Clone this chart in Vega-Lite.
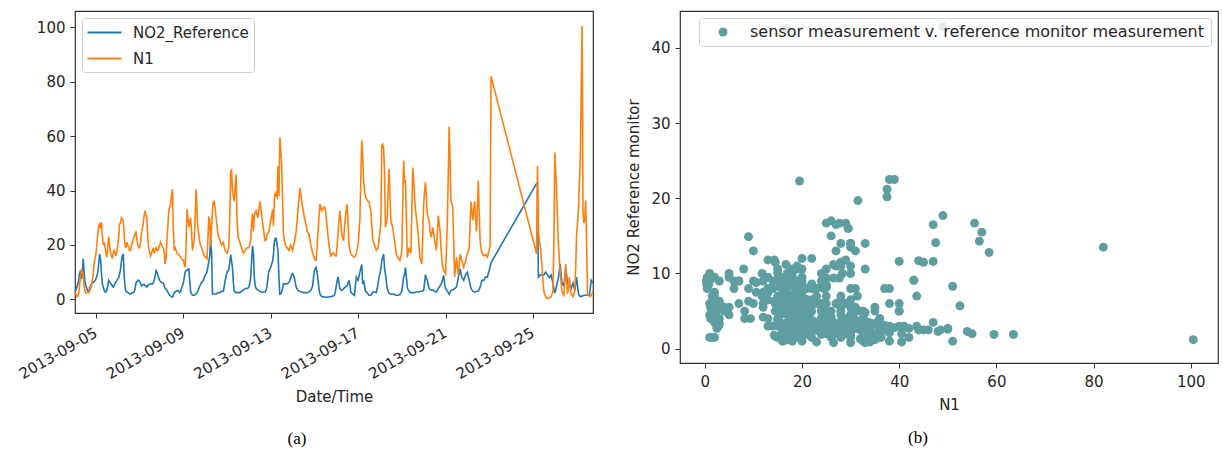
{
"$schema":"https://vega.github.io/schema/vega-lite/v6.json",
"background":"white",
"padding":{"left":15,"top":10,"right":2,"bottom":0},
"config":{
"font":"DejaVu Sans",
"view":{"stroke":"#333333","strokeWidth":1.2},
"axis":{"domain":false,"grid":false,"tickColor":"#333333","tickSize":5,"tickWidth":1,"labelFontSize":15,"labelColor":"#262626","titleFontSize":15,"titleColor":"#262626","titleFontWeight":"normal","labelFont":"DejaVu Sans","titleFont":"DejaVu Sans","labelPadding":5},
"legend":{"labelFontSize":15,"labelColor":"#262626","labelFont":"DejaVu Sans","labelLimit":0}
},
"datasets":{"ts":[
{"t":"2013-09-04T01:00","NO2_Reference":3.0,"N1":2.5},
{"t":"2013-09-04T02:00","NO2_Reference":3.5,"N1":2.0},
{"t":"2013-09-04T03:00","NO2_Reference":4.5,"N1":1.0},
{"t":"2013-09-04T04:00","NO2_Reference":5.5,"N1":1.2},
{"t":"2013-09-04T05:00","NO2_Reference":7.0,"N1":2.0},
{"t":"2013-09-04T06:00","NO2_Reference":9.5,"N1":5.0},
{"t":"2013-09-04T07:00","NO2_Reference":10.6,"N1":8.0},
{"t":"2013-09-04T08:00","NO2_Reference":7.5,"N1":10.6},
{"t":"2013-09-04T09:00","NO2_Reference":9.0,"N1":10.0},
{"t":"2013-09-04T10:00","NO2_Reference":14.9,"N1":9.0},
{"t":"2013-09-04T11:00","NO2_Reference":10.0,"N1":5.0},
{"t":"2013-09-04T12:00","NO2_Reference":6.3,"N1":3.0},
{"t":"2013-09-04T13:00","NO2_Reference":5.0,"N1":2.5},
{"t":"2013-09-04T14:00","NO2_Reference":4.0,"N1":2.5},
{"t":"2013-09-04T15:00","NO2_Reference":3.0,"N1":2.8},
{"t":"2013-09-04T16:00","NO2_Reference":2.7,"N1":2.5},
{"t":"2013-09-04T17:00","NO2_Reference":4.0,"N1":3.0},
{"t":"2013-09-04T18:00","NO2_Reference":5.0,"N1":4.0},
{"t":"2013-09-04T19:00","NO2_Reference":5.5,"N1":5.0},
{"t":"2013-09-04T20:00","NO2_Reference":6.0,"N1":7.0},
{"t":"2013-09-04T21:00","NO2_Reference":6.3,"N1":9.0},
{"t":"2013-09-04T22:00","NO2_Reference":6.5,"N1":13.0},
{"t":"2013-09-04T23:00","NO2_Reference":7.0,"N1":15.0},
{"t":"2013-09-05T00:00","NO2_Reference":7.6,"N1":16.7},
{"t":"2013-09-05T01:00","NO2_Reference":8.5,"N1":20.0},
{"t":"2013-09-05T02:00","NO2_Reference":10.0,"N1":24.0},
{"t":"2013-09-05T03:00","NO2_Reference":13.0,"N1":27.0},
{"t":"2013-09-05T04:00","NO2_Reference":16.7,"N1":27.7},
{"t":"2013-09-05T05:00","NO2_Reference":15.0,"N1":26.0},
{"t":"2013-09-05T06:00","NO2_Reference":10.0,"N1":28.3},
{"t":"2013-09-05T07:00","NO2_Reference":6.0,"N1":24.0},
{"t":"2013-09-05T08:00","NO2_Reference":4.5,"N1":20.0},
{"t":"2013-09-05T09:00","NO2_Reference":3.5,"N1":21.0},
{"t":"2013-09-05T10:00","NO2_Reference":2.7,"N1":19.0},
{"t":"2013-09-05T11:00","NO2_Reference":2.7,"N1":17.0},
{"t":"2013-09-05T12:00","NO2_Reference":3.5,"N1":15.5},
{"t":"2013-09-05T13:00","NO2_Reference":5.0,"N1":19.0},
{"t":"2013-09-05T14:00","NO2_Reference":7.0,"N1":23.0},
{"t":"2013-09-05T15:00","NO2_Reference":6.5,"N1":20.0},
{"t":"2013-09-05T16:00","NO2_Reference":6.0,"N1":17.0},
{"t":"2013-09-05T17:00","NO2_Reference":5.5,"N1":16.0},
{"t":"2013-09-05T18:00","NO2_Reference":5.0,"N1":15.0},
{"t":"2013-09-05T19:00","NO2_Reference":4.5,"N1":17.0},
{"t":"2013-09-05T20:00","NO2_Reference":5.0,"N1":18.0},
{"t":"2013-09-05T21:00","NO2_Reference":6.0,"N1":17.0},
{"t":"2013-09-05T22:00","NO2_Reference":6.5,"N1":16.0},
{"t":"2013-09-05T23:00","NO2_Reference":7.0,"N1":18.0},
{"t":"2013-09-06T00:00","NO2_Reference":7.6,"N1":20.0},
{"t":"2013-09-06T01:00","NO2_Reference":8.0,"N1":23.0},
{"t":"2013-09-06T02:00","NO2_Reference":9.4,"N1":27.7},
{"t":"2013-09-06T03:00","NO2_Reference":11.0,"N1":28.0},
{"t":"2013-09-06T04:00","NO2_Reference":14.0,"N1":30.0},
{"t":"2013-09-06T05:00","NO2_Reference":16.0,"N1":29.5},
{"t":"2013-09-06T06:00","NO2_Reference":16.7,"N1":29.0},
{"t":"2013-09-06T07:00","NO2_Reference":9.0,"N1":24.0},
{"t":"2013-09-06T08:00","NO2_Reference":4.5,"N1":20.0},
{"t":"2013-09-06T09:00","NO2_Reference":3.0,"N1":19.0},
{"t":"2013-09-06T10:00","NO2_Reference":2.7,"N1":21.0},
{"t":"2013-09-06T11:00","NO2_Reference":2.5,"N1":20.0},
{"t":"2013-09-06T12:00","NO2_Reference":2.3,"N1":19.0},
{"t":"2013-09-06T13:00","NO2_Reference":2.0,"N1":18.0},
{"t":"2013-09-06T14:00","NO2_Reference":2.0,"N1":18.0},
{"t":"2013-09-06T15:00","NO2_Reference":2.2,"N1":20.0},
{"t":"2013-09-06T16:00","NO2_Reference":2.5,"N1":21.0},
{"t":"2013-09-06T17:00","NO2_Reference":2.5,"N1":22.0},
{"t":"2013-09-06T18:00","NO2_Reference":2.7,"N1":23.0},
{"t":"2013-09-06T19:00","NO2_Reference":4.0,"N1":24.0},
{"t":"2013-09-06T20:00","NO2_Reference":6.0,"N1":25.0},
{"t":"2013-09-06T21:00","NO2_Reference":6.5,"N1":22.0},
{"t":"2013-09-06T22:00","NO2_Reference":7.0,"N1":20.0},
{"t":"2013-09-06T23:00","NO2_Reference":7.0,"N1":19.0},
{"t":"2013-09-07T00:00","NO2_Reference":6.5,"N1":19.0},
{"t":"2013-09-07T01:00","NO2_Reference":6.0,"N1":21.0},
{"t":"2013-09-07T02:00","NO2_Reference":5.0,"N1":24.0},
{"t":"2013-09-07T03:00","NO2_Reference":5.0,"N1":26.0},
{"t":"2013-09-07T04:00","NO2_Reference":5.5,"N1":28.0},
{"t":"2013-09-07T05:00","NO2_Reference":5.5,"N1":31.0},
{"t":"2013-09-07T06:00","NO2_Reference":5.0,"N1":32.6},
{"t":"2013-09-07T07:00","NO2_Reference":5.0,"N1":31.0},
{"t":"2013-09-07T08:00","NO2_Reference":4.5,"N1":30.0},
{"t":"2013-09-07T09:00","NO2_Reference":5.0,"N1":22.0},
{"t":"2013-09-07T10:00","NO2_Reference":5.5,"N1":19.0},
{"t":"2013-09-07T11:00","NO2_Reference":5.5,"N1":17.0},
{"t":"2013-09-07T12:00","NO2_Reference":5.7,"N1":16.0},
{"t":"2013-09-07T13:00","NO2_Reference":5.7,"N1":17.0},
{"t":"2013-09-07T14:00","NO2_Reference":5.7,"N1":18.0},
{"t":"2013-09-07T15:00","NO2_Reference":6.0,"N1":19.0},
{"t":"2013-09-07T16:00","NO2_Reference":7.0,"N1":17.0},
{"t":"2013-09-07T17:00","NO2_Reference":8.5,"N1":18.0},
{"t":"2013-09-07T18:00","NO2_Reference":10.6,"N1":19.0},
{"t":"2013-09-07T19:00","NO2_Reference":10.0,"N1":18.0},
{"t":"2013-09-07T20:00","NO2_Reference":9.0,"N1":18.0},
{"t":"2013-09-07T21:00","NO2_Reference":8.0,"N1":19.0},
{"t":"2013-09-07T22:00","NO2_Reference":7.0,"N1":20.0},
{"t":"2013-09-07T23:00","NO2_Reference":6.5,"N1":21.0},
{"t":"2013-09-08T00:00","NO2_Reference":6.3,"N1":20.0},
{"t":"2013-09-08T01:00","NO2_Reference":6.0,"N1":19.5},
{"t":"2013-09-08T02:00","NO2_Reference":6.0,"N1":19.0},
{"t":"2013-09-08T03:00","NO2_Reference":5.0,"N1":17.0},
{"t":"2013-09-08T04:00","NO2_Reference":4.0,"N1":13.0},
{"t":"2013-09-08T05:00","NO2_Reference":3.8,"N1":15.0},
{"t":"2013-09-08T06:00","NO2_Reference":3.3,"N1":22.0},
{"t":"2013-09-08T07:00","NO2_Reference":2.7,"N1":27.0},
{"t":"2013-09-08T08:00","NO2_Reference":2.0,"N1":32.6},
{"t":"2013-09-08T09:00","NO2_Reference":1.5,"N1":34.0},
{"t":"2013-09-08T10:00","NO2_Reference":1.2,"N1":35.0},
{"t":"2013-09-08T11:00","NO2_Reference":1.0,"N1":38.0},
{"t":"2013-09-08T12:00","NO2_Reference":0.9,"N1":40.5},
{"t":"2013-09-08T13:00","NO2_Reference":1.5,"N1":26.0},
{"t":"2013-09-08T14:00","NO2_Reference":2.5,"N1":18.0},
{"t":"2013-09-08T15:00","NO2_Reference":2.7,"N1":19.0},
{"t":"2013-09-08T16:00","NO2_Reference":3.0,"N1":18.0},
{"t":"2013-09-08T17:00","NO2_Reference":3.2,"N1":17.0},
{"t":"2013-09-08T18:00","NO2_Reference":3.3,"N1":16.7},
{"t":"2013-09-08T19:00","NO2_Reference":3.0,"N1":16.5},
{"t":"2013-09-08T20:00","NO2_Reference":2.5,"N1":16.0},
{"t":"2013-09-08T21:00","NO2_Reference":3.0,"N1":15.5},
{"t":"2013-09-08T22:00","NO2_Reference":4.0,"N1":15.0},
{"t":"2013-09-08T23:00","NO2_Reference":5.0,"N1":14.5},
{"t":"2013-09-09T00:00","NO2_Reference":6.0,"N1":14.5},
{"t":"2013-09-09T01:00","NO2_Reference":8.0,"N1":13.0},
{"t":"2013-09-09T02:00","NO2_Reference":10.0,"N1":11.8},
{"t":"2013-09-09T03:00","NO2_Reference":10.6,"N1":20.0},
{"t":"2013-09-09T04:00","NO2_Reference":10.6,"N1":33.0},
{"t":"2013-09-09T05:00","NO2_Reference":11.0,"N1":30.0},
{"t":"2013-09-09T06:00","NO2_Reference":11.2,"N1":26.5},
{"t":"2013-09-09T07:00","NO2_Reference":7.0,"N1":28.0},
{"t":"2013-09-09T08:00","NO2_Reference":3.0,"N1":30.0},
{"t":"2013-09-09T09:00","NO2_Reference":2.0,"N1":25.0},
{"t":"2013-09-09T10:00","NO2_Reference":1.5,"N1":18.0},
{"t":"2013-09-09T11:00","NO2_Reference":1.5,"N1":20.0},
{"t":"2013-09-09T12:00","NO2_Reference":1.5,"N1":22.0},
{"t":"2013-09-09T13:00","NO2_Reference":1.8,"N1":30.0},
{"t":"2013-09-09T14:00","NO2_Reference":2.0,"N1":40.5},
{"t":"2013-09-09T15:00","NO2_Reference":2.5,"N1":33.0},
{"t":"2013-09-09T16:00","NO2_Reference":3.0,"N1":26.0},
{"t":"2013-09-09T17:00","NO2_Reference":4.0,"N1":24.0},
{"t":"2013-09-09T18:00","NO2_Reference":5.0,"N1":21.0},
{"t":"2013-09-09T19:00","NO2_Reference":5.5,"N1":20.0},
{"t":"2013-09-09T20:00","NO2_Reference":6.3,"N1":19.0},
{"t":"2013-09-09T21:00","NO2_Reference":6.5,"N1":18.0},
{"t":"2013-09-09T22:00","NO2_Reference":7.0,"N1":17.0},
{"t":"2013-09-09T23:00","NO2_Reference":8.0,"N1":16.0},
{"t":"2013-09-10T00:00","NO2_Reference":8.8,"N1":15.5},
{"t":"2013-09-10T01:00","NO2_Reference":9.5,"N1":15.5},
{"t":"2013-09-10T02:00","NO2_Reference":10.0,"N1":15.0},
{"t":"2013-09-10T03:00","NO2_Reference":12.0,"N1":22.0},
{"t":"2013-09-10T04:00","NO2_Reference":14.0,"N1":30.0},
{"t":"2013-09-10T05:00","NO2_Reference":16.0,"N1":29.5},
{"t":"2013-09-10T06:00","NO2_Reference":22.3,"N1":19.5},
{"t":"2013-09-10T07:00","NO2_Reference":17.0,"N1":26.0},
{"t":"2013-09-10T08:00","NO2_Reference":2.0,"N1":33.0},
{"t":"2013-09-10T09:00","NO2_Reference":2.0,"N1":36.0},
{"t":"2013-09-10T10:00","NO2_Reference":2.0,"N1":36.0},
{"t":"2013-09-10T11:00","NO2_Reference":2.0,"N1":33.0},
{"t":"2013-09-10T12:00","NO2_Reference":2.0,"N1":30.0},
{"t":"2013-09-10T13:00","NO2_Reference":2.2,"N1":27.0},
{"t":"2013-09-10T14:00","NO2_Reference":2.5,"N1":24.0},
{"t":"2013-09-10T15:00","NO2_Reference":2.5,"N1":23.0},
{"t":"2013-09-10T16:00","NO2_Reference":2.5,"N1":22.0},
{"t":"2013-09-10T17:00","NO2_Reference":2.7,"N1":21.0},
{"t":"2013-09-10T18:00","NO2_Reference":3.0,"N1":20.0},
{"t":"2013-09-10T19:00","NO2_Reference":3.0,"N1":20.5},
{"t":"2013-09-10T20:00","NO2_Reference":3.0,"N1":21.0},
{"t":"2013-09-10T21:00","NO2_Reference":5.0,"N1":19.0},
{"t":"2013-09-10T22:00","NO2_Reference":7.0,"N1":18.0},
{"t":"2013-09-10T23:00","NO2_Reference":8.5,"N1":17.5},
{"t":"2013-09-11T00:00","NO2_Reference":10.0,"N1":17.0},
{"t":"2013-09-11T01:00","NO2_Reference":10.5,"N1":18.0},
{"t":"2013-09-11T02:00","NO2_Reference":11.0,"N1":19.0},
{"t":"2013-09-11T03:00","NO2_Reference":13.5,"N1":30.0},
{"t":"2013-09-11T04:00","NO2_Reference":16.5,"N1":47.0},
{"t":"2013-09-11T05:00","NO2_Reference":14.1,"N1":47.5},
{"t":"2013-09-11T06:00","NO2_Reference":11.6,"N1":40.0},
{"t":"2013-09-11T07:00","NO2_Reference":6.0,"N1":38.0},
{"t":"2013-09-11T08:00","NO2_Reference":3.0,"N1":36.0},
{"t":"2013-09-11T09:00","NO2_Reference":2.7,"N1":42.0},
{"t":"2013-09-11T10:00","NO2_Reference":2.5,"N1":46.0},
{"t":"2013-09-11T11:00","NO2_Reference":2.5,"N1":30.0},
{"t":"2013-09-11T12:00","NO2_Reference":2.5,"N1":23.0},
{"t":"2013-09-11T13:00","NO2_Reference":2.5,"N1":22.0},
{"t":"2013-09-11T14:00","NO2_Reference":2.5,"N1":21.0},
{"t":"2013-09-11T15:00","NO2_Reference":2.7,"N1":20.0},
{"t":"2013-09-11T16:00","NO2_Reference":3.0,"N1":19.0},
{"t":"2013-09-11T17:00","NO2_Reference":3.2,"N1":18.0},
{"t":"2013-09-11T18:00","NO2_Reference":3.5,"N1":17.0},
{"t":"2013-09-11T19:00","NO2_Reference":3.7,"N1":17.5},
{"t":"2013-09-11T20:00","NO2_Reference":4.0,"N1":18.0},
{"t":"2013-09-11T21:00","NO2_Reference":4.0,"N1":18.5},
{"t":"2013-09-11T22:00","NO2_Reference":4.0,"N1":19.0},
{"t":"2013-09-11T23:00","NO2_Reference":4.2,"N1":19.0},
{"t":"2013-09-12T00:00","NO2_Reference":4.5,"N1":19.0},
{"t":"2013-09-12T01:00","NO2_Reference":6.0,"N1":20.0},
{"t":"2013-09-12T02:00","NO2_Reference":8.0,"N1":22.0},
{"t":"2013-09-12T03:00","NO2_Reference":14.0,"N1":28.0},
{"t":"2013-09-12T04:00","NO2_Reference":19.7,"N1":31.5},
{"t":"2013-09-12T05:00","NO2_Reference":16.7,"N1":25.0},
{"t":"2013-09-12T06:00","NO2_Reference":8.0,"N1":31.0},
{"t":"2013-09-12T07:00","NO2_Reference":5.0,"N1":32.0},
{"t":"2013-09-12T08:00","NO2_Reference":4.0,"N1":32.6},
{"t":"2013-09-12T09:00","NO2_Reference":3.7,"N1":31.0},
{"t":"2013-09-12T10:00","NO2_Reference":3.5,"N1":30.0},
{"t":"2013-09-12T11:00","NO2_Reference":3.2,"N1":33.0},
{"t":"2013-09-12T12:00","NO2_Reference":3.0,"N1":36.0},
{"t":"2013-09-12T13:00","NO2_Reference":2.8,"N1":34.0},
{"t":"2013-09-12T14:00","NO2_Reference":2.7,"N1":31.0},
{"t":"2013-09-12T15:00","NO2_Reference":2.7,"N1":28.0},
{"t":"2013-09-12T16:00","NO2_Reference":2.7,"N1":26.0},
{"t":"2013-09-12T17:00","NO2_Reference":2.7,"N1":23.0},
{"t":"2013-09-12T18:00","NO2_Reference":2.7,"N1":21.6},
{"t":"2013-09-12T19:00","NO2_Reference":3.5,"N1":22.0},
{"t":"2013-09-12T20:00","NO2_Reference":5.0,"N1":24.0},
{"t":"2013-09-12T21:00","NO2_Reference":8.0,"N1":24.5},
{"t":"2013-09-12T22:00","NO2_Reference":10.6,"N1":25.0},
{"t":"2013-09-12T23:00","NO2_Reference":11.0,"N1":27.0},
{"t":"2013-09-13T00:00","NO2_Reference":11.8,"N1":29.0},
{"t":"2013-09-13T01:00","NO2_Reference":13.0,"N1":31.0},
{"t":"2013-09-13T02:00","NO2_Reference":14.0,"N1":33.0},
{"t":"2013-09-13T03:00","NO2_Reference":16.5,"N1":27.0},
{"t":"2013-09-13T04:00","NO2_Reference":21.2,"N1":37.5},
{"t":"2013-09-13T05:00","NO2_Reference":22.5,"N1":39.0},
{"t":"2013-09-13T06:00","NO2_Reference":22.5,"N1":38.0},
{"t":"2013-09-13T07:00","NO2_Reference":20.2,"N1":37.5},
{"t":"2013-09-13T08:00","NO2_Reference":17.7,"N1":49.0},
{"t":"2013-09-13T09:00","NO2_Reference":8.0,"N1":38.0},
{"t":"2013-09-13T10:00","NO2_Reference":1.9,"N1":59.5},
{"t":"2013-09-13T11:00","NO2_Reference":2.0,"N1":55.0},
{"t":"2013-09-13T12:00","NO2_Reference":2.7,"N1":50.0},
{"t":"2013-09-13T13:00","NO2_Reference":4.0,"N1":36.0},
{"t":"2013-09-13T14:00","NO2_Reference":5.7,"N1":24.0},
{"t":"2013-09-13T15:00","NO2_Reference":5.7,"N1":22.0},
{"t":"2013-09-13T16:00","NO2_Reference":5.7,"N1":20.0},
{"t":"2013-09-13T17:00","NO2_Reference":5.7,"N1":19.5},
{"t":"2013-09-13T18:00","NO2_Reference":5.7,"N1":19.0},
{"t":"2013-09-13T19:00","NO2_Reference":6.0,"N1":18.5},
{"t":"2013-09-13T20:00","NO2_Reference":6.3,"N1":18.0},
{"t":"2013-09-13T21:00","NO2_Reference":7.0,"N1":19.0},
{"t":"2013-09-13T22:00","NO2_Reference":8.0,"N1":20.0},
{"t":"2013-09-13T23:00","NO2_Reference":9.0,"N1":19.0},
{"t":"2013-09-14T00:00","NO2_Reference":9.5,"N1":18.0},
{"t":"2013-09-14T01:00","NO2_Reference":9.0,"N1":19.5},
{"t":"2013-09-14T02:00","NO2_Reference":8.0,"N1":21.0},
{"t":"2013-09-14T03:00","NO2_Reference":6.0,"N1":23.0},
{"t":"2013-09-14T04:00","NO2_Reference":4.5,"N1":25.0},
{"t":"2013-09-14T05:00","NO2_Reference":3.8,"N1":29.0},
{"t":"2013-09-14T06:00","NO2_Reference":3.3,"N1":33.0},
{"t":"2013-09-14T07:00","NO2_Reference":3.1,"N1":37.0},
{"t":"2013-09-14T08:00","NO2_Reference":3.0,"N1":41.0},
{"t":"2013-09-14T09:00","NO2_Reference":2.8,"N1":39.0},
{"t":"2013-09-14T10:00","NO2_Reference":2.7,"N1":36.0},
{"t":"2013-09-14T11:00","NO2_Reference":2.6,"N1":34.0},
{"t":"2013-09-14T12:00","NO2_Reference":2.5,"N1":32.0},
{"t":"2013-09-14T13:00","NO2_Reference":2.5,"N1":30.0},
{"t":"2013-09-14T14:00","NO2_Reference":2.5,"N1":29.0},
{"t":"2013-09-14T15:00","NO2_Reference":2.5,"N1":27.0},
{"t":"2013-09-14T16:00","NO2_Reference":2.5,"N1":25.0},
{"t":"2013-09-14T17:00","NO2_Reference":2.6,"N1":24.5},
{"t":"2013-09-14T18:00","NO2_Reference":2.7,"N1":24.0},
{"t":"2013-09-14T19:00","NO2_Reference":3.0,"N1":22.0},
{"t":"2013-09-14T20:00","NO2_Reference":3.3,"N1":20.0},
{"t":"2013-09-14T21:00","NO2_Reference":4.0,"N1":18.5},
{"t":"2013-09-14T22:00","NO2_Reference":5.0,"N1":17.0},
{"t":"2013-09-14T23:00","NO2_Reference":8.0,"N1":16.0},
{"t":"2013-09-15T00:00","NO2_Reference":10.6,"N1":15.0},
{"t":"2013-09-15T01:00","NO2_Reference":11.5,"N1":14.5},
{"t":"2013-09-15T02:00","NO2_Reference":11.8,"N1":14.3},
{"t":"2013-09-15T03:00","NO2_Reference":9.5,"N1":20.0},
{"t":"2013-09-15T04:00","NO2_Reference":7.0,"N1":25.0},
{"t":"2013-09-15T05:00","NO2_Reference":4.0,"N1":30.0},
{"t":"2013-09-15T06:00","NO2_Reference":2.0,"N1":35.0},
{"t":"2013-09-15T07:00","NO2_Reference":1.5,"N1":34.0},
{"t":"2013-09-15T08:00","NO2_Reference":1.0,"N1":32.6},
{"t":"2013-09-15T09:00","NO2_Reference":1.0,"N1":33.0},
{"t":"2013-09-15T10:00","NO2_Reference":1.0,"N1":33.8},
{"t":"2013-09-15T11:00","NO2_Reference":0.9,"N1":34.0},
{"t":"2013-09-15T12:00","NO2_Reference":0.8,"N1":33.0},
{"t":"2013-09-15T13:00","NO2_Reference":0.8,"N1":30.0},
{"t":"2013-09-15T14:00","NO2_Reference":0.8,"N1":26.5},
{"t":"2013-09-15T15:00","NO2_Reference":0.9,"N1":23.0},
{"t":"2013-09-15T16:00","NO2_Reference":1.0,"N1":20.0},
{"t":"2013-09-15T17:00","NO2_Reference":1.0,"N1":18.0},
{"t":"2013-09-15T18:00","NO2_Reference":1.0,"N1":16.0},
{"t":"2013-09-15T19:00","NO2_Reference":1.1,"N1":16.5},
{"t":"2013-09-15T20:00","NO2_Reference":1.2,"N1":17.0},
{"t":"2013-09-15T21:00","NO2_Reference":1.3,"N1":17.0},
{"t":"2013-09-15T22:00","NO2_Reference":1.5,"N1":16.5},
{"t":"2013-09-15T23:00","NO2_Reference":3.0,"N1":16.0},
{"t":"2013-09-16T00:00","NO2_Reference":5.0,"N1":16.0},
{"t":"2013-09-16T01:00","NO2_Reference":7.0,"N1":20.0},
{"t":"2013-09-16T02:00","NO2_Reference":8.2,"N1":25.0},
{"t":"2013-09-16T03:00","NO2_Reference":6.0,"N1":29.0},
{"t":"2013-09-16T04:00","NO2_Reference":4.0,"N1":32.6},
{"t":"2013-09-16T05:00","NO2_Reference":3.6,"N1":28.0},
{"t":"2013-09-16T06:00","NO2_Reference":3.3,"N1":24.0},
{"t":"2013-09-16T07:00","NO2_Reference":3.6,"N1":22.5},
{"t":"2013-09-16T08:00","NO2_Reference":4.0,"N1":21.6},
{"t":"2013-09-16T09:00","NO2_Reference":4.2,"N1":26.0},
{"t":"2013-09-16T10:00","NO2_Reference":4.5,"N1":30.0},
{"t":"2013-09-16T11:00","NO2_Reference":4.8,"N1":33.0},
{"t":"2013-09-16T12:00","NO2_Reference":5.0,"N1":35.0},
{"t":"2013-09-16T13:00","NO2_Reference":6.0,"N1":27.0},
{"t":"2013-09-16T14:00","NO2_Reference":7.0,"N1":20.0},
{"t":"2013-09-16T15:00","NO2_Reference":5.0,"N1":18.0},
{"t":"2013-09-16T16:00","NO2_Reference":2.7,"N1":16.7},
{"t":"2013-09-16T17:00","NO2_Reference":2.3,"N1":16.3},
{"t":"2013-09-16T18:00","NO2_Reference":2.0,"N1":16.0},
{"t":"2013-09-16T19:00","NO2_Reference":1.7,"N1":15.7},
{"t":"2013-09-16T20:00","NO2_Reference":1.5,"N1":15.5},
{"t":"2013-09-16T21:00","NO2_Reference":5.0,"N1":16.0},
{"t":"2013-09-16T22:00","NO2_Reference":8.2,"N1":17.0},
{"t":"2013-09-16T23:00","NO2_Reference":7.5,"N1":18.5},
{"t":"2013-09-17T00:00","NO2_Reference":7.0,"N1":20.0},
{"t":"2013-09-17T01:00","NO2_Reference":8.5,"N1":25.0},
{"t":"2013-09-17T02:00","NO2_Reference":10.0,"N1":30.0},
{"t":"2013-09-17T03:00","NO2_Reference":11.5,"N1":45.0},
{"t":"2013-09-17T04:00","NO2_Reference":12.8,"N1":58.5},
{"t":"2013-09-17T05:00","NO2_Reference":5.7,"N1":52.5},
{"t":"2013-09-17T06:00","NO2_Reference":7.0,"N1":43.6},
{"t":"2013-09-17T07:00","NO2_Reference":5.0,"N1":40.0},
{"t":"2013-09-17T08:00","NO2_Reference":3.0,"N1":38.0},
{"t":"2013-09-17T09:00","NO2_Reference":2.7,"N1":37.0},
{"t":"2013-09-17T10:00","NO2_Reference":2.5,"N1":36.5},
{"t":"2013-09-17T11:00","NO2_Reference":2.0,"N1":36.0},
{"t":"2013-09-17T12:00","NO2_Reference":1.5,"N1":36.0},
{"t":"2013-09-17T13:00","NO2_Reference":1.5,"N1":34.0},
{"t":"2013-09-17T14:00","NO2_Reference":1.5,"N1":32.6},
{"t":"2013-09-17T15:00","NO2_Reference":2.0,"N1":27.0},
{"t":"2013-09-17T16:00","NO2_Reference":2.7,"N1":22.0},
{"t":"2013-09-17T17:00","NO2_Reference":2.7,"N1":21.0},
{"t":"2013-09-17T18:00","NO2_Reference":2.7,"N1":20.0},
{"t":"2013-09-17T19:00","NO2_Reference":2.6,"N1":19.0},
{"t":"2013-09-17T20:00","NO2_Reference":2.5,"N1":18.0},
{"t":"2013-09-17T21:00","NO2_Reference":4.0,"N1":18.5},
{"t":"2013-09-17T22:00","NO2_Reference":6.0,"N1":19.0},
{"t":"2013-09-17T23:00","NO2_Reference":8.0,"N1":22.0},
{"t":"2013-09-18T00:00","NO2_Reference":9.4,"N1":25.0},
{"t":"2013-09-18T01:00","NO2_Reference":11.5,"N1":28.0},
{"t":"2013-09-18T02:00","NO2_Reference":14.3,"N1":56.5},
{"t":"2013-09-18T03:00","NO2_Reference":15.5,"N1":57.0},
{"t":"2013-09-18T04:00","NO2_Reference":16.7,"N1":55.5},
{"t":"2013-09-18T05:00","NO2_Reference":11.6,"N1":47.0},
{"t":"2013-09-18T06:00","NO2_Reference":9.4,"N1":26.5},
{"t":"2013-09-18T07:00","NO2_Reference":6.5,"N1":28.0},
{"t":"2013-09-18T08:00","NO2_Reference":4.0,"N1":30.0},
{"t":"2013-09-18T09:00","NO2_Reference":3.0,"N1":40.0},
{"t":"2013-09-18T10:00","NO2_Reference":2.3,"N1":48.0},
{"t":"2013-09-18T11:00","NO2_Reference":2.1,"N1":38.0},
{"t":"2013-09-18T12:00","NO2_Reference":2.0,"N1":29.0},
{"t":"2013-09-18T13:00","NO2_Reference":2.0,"N1":27.5},
{"t":"2013-09-18T14:00","NO2_Reference":2.0,"N1":26.5},
{"t":"2013-09-18T15:00","NO2_Reference":1.9,"N1":24.0},
{"t":"2013-09-18T16:00","NO2_Reference":1.8,"N1":21.6},
{"t":"2013-09-18T17:00","NO2_Reference":1.6,"N1":19.0},
{"t":"2013-09-18T18:00","NO2_Reference":1.5,"N1":16.7},
{"t":"2013-09-18T19:00","NO2_Reference":1.5,"N1":15.8},
{"t":"2013-09-18T20:00","NO2_Reference":1.5,"N1":15.0},
{"t":"2013-09-18T21:00","NO2_Reference":1.6,"N1":14.6},
{"t":"2013-09-18T22:00","NO2_Reference":1.8,"N1":14.3},
{"t":"2013-09-18T23:00","NO2_Reference":2.4,"N1":16.0},
{"t":"2013-09-19T00:00","NO2_Reference":3.0,"N1":18.0},
{"t":"2013-09-19T01:00","NO2_Reference":5.5,"N1":35.0},
{"t":"2013-09-19T02:00","NO2_Reference":8.3,"N1":51.0},
{"t":"2013-09-19T03:00","NO2_Reference":9.1,"N1":43.0},
{"t":"2013-09-19T04:00","NO2_Reference":11.7,"N1":44.0},
{"t":"2013-09-19T05:00","NO2_Reference":8.0,"N1":30.0},
{"t":"2013-09-19T06:00","NO2_Reference":4.5,"N1":15.5},
{"t":"2013-09-19T07:00","NO2_Reference":3.5,"N1":17.0},
{"t":"2013-09-19T08:00","NO2_Reference":3.0,"N1":19.0},
{"t":"2013-09-19T09:00","NO2_Reference":2.7,"N1":18.0},
{"t":"2013-09-19T10:00","NO2_Reference":2.5,"N1":17.0},
{"t":"2013-09-19T11:00","NO2_Reference":2.5,"N1":33.0},
{"t":"2013-09-19T12:00","NO2_Reference":2.5,"N1":48.5},
{"t":"2013-09-19T13:00","NO2_Reference":2.5,"N1":44.0},
{"t":"2013-09-19T14:00","NO2_Reference":2.5,"N1":37.5},
{"t":"2013-09-19T15:00","NO2_Reference":2.6,"N1":33.0},
{"t":"2013-09-19T16:00","NO2_Reference":2.7,"N1":30.0},
{"t":"2013-09-19T17:00","NO2_Reference":2.7,"N1":27.0},
{"t":"2013-09-19T18:00","NO2_Reference":2.7,"N1":24.0},
{"t":"2013-09-19T19:00","NO2_Reference":2.8,"N1":19.0},
{"t":"2013-09-19T20:00","NO2_Reference":3.0,"N1":15.0},
{"t":"2013-09-19T21:00","NO2_Reference":3.0,"N1":14.0},
{"t":"2013-09-19T22:00","NO2_Reference":3.0,"N1":13.0},
{"t":"2013-09-19T23:00","NO2_Reference":3.1,"N1":24.0},
{"t":"2013-09-20T00:00","NO2_Reference":3.3,"N1":35.0},
{"t":"2013-09-20T01:00","NO2_Reference":6.0,"N1":40.0},
{"t":"2013-09-20T02:00","NO2_Reference":9.1,"N1":43.0},
{"t":"2013-09-20T03:00","NO2_Reference":8.0,"N1":37.0},
{"t":"2013-09-20T04:00","NO2_Reference":7.0,"N1":31.4},
{"t":"2013-09-20T05:00","NO2_Reference":5.5,"N1":30.0},
{"t":"2013-09-20T06:00","NO2_Reference":4.0,"N1":29.0},
{"t":"2013-09-20T07:00","NO2_Reference":3.7,"N1":25.0},
{"t":"2013-09-20T08:00","NO2_Reference":3.5,"N1":22.8},
{"t":"2013-09-20T09:00","NO2_Reference":3.5,"N1":24.5},
{"t":"2013-09-20T10:00","NO2_Reference":3.5,"N1":26.5},
{"t":"2013-09-20T11:00","NO2_Reference":3.2,"N1":24.0},
{"t":"2013-09-20T12:00","NO2_Reference":3.0,"N1":22.0},
{"t":"2013-09-20T13:00","NO2_Reference":2.8,"N1":20.0},
{"t":"2013-09-20T14:00","NO2_Reference":2.7,"N1":18.0},
{"t":"2013-09-20T15:00","NO2_Reference":3.3,"N1":24.0},
{"t":"2013-09-20T16:00","NO2_Reference":4.0,"N1":30.8},
{"t":"2013-09-20T17:00","NO2_Reference":4.5,"N1":28.0},
{"t":"2013-09-20T18:00","NO2_Reference":5.0,"N1":25.0},
{"t":"2013-09-20T19:00","NO2_Reference":5.6,"N1":19.0},
{"t":"2013-09-20T20:00","NO2_Reference":6.3,"N1":14.3},
{"t":"2013-09-20T21:00","NO2_Reference":7.5,"N1":12.0},
{"t":"2013-09-20T22:00","NO2_Reference":8.8,"N1":10.6},
{"t":"2013-09-20T23:00","NO2_Reference":6.0,"N1":10.0},
{"t":"2013-09-21T00:00","NO2_Reference":4.0,"N1":9.4},
{"t":"2013-09-21T01:00","NO2_Reference":3.5,"N1":18.0},
{"t":"2013-09-21T02:00","NO2_Reference":3.0,"N1":29.0},
{"t":"2013-09-21T03:00","NO2_Reference":2.5,"N1":45.0},
{"t":"2013-09-21T04:00","NO2_Reference":1.9,"N1":63.5},
{"t":"2013-09-21T05:00","NO2_Reference":2.6,"N1":50.0},
{"t":"2013-09-21T06:00","NO2_Reference":3.3,"N1":36.0},
{"t":"2013-09-21T07:00","NO2_Reference":3.4,"N1":35.0},
{"t":"2013-09-21T08:00","NO2_Reference":3.5,"N1":33.8},
{"t":"2013-09-21T09:00","NO2_Reference":3.7,"N1":20.0},
{"t":"2013-09-21T10:00","NO2_Reference":4.0,"N1":8.2},
{"t":"2013-09-21T11:00","NO2_Reference":4.2,"N1":12.0},
{"t":"2013-09-21T12:00","NO2_Reference":4.5,"N1":15.5},
{"t":"2013-09-21T13:00","NO2_Reference":6.0,"N1":12.0},
{"t":"2013-09-21T14:00","NO2_Reference":8.0,"N1":9.0},
{"t":"2013-09-21T15:00","NO2_Reference":9.5,"N1":13.0},
{"t":"2013-09-21T16:00","NO2_Reference":11.2,"N1":16.7},
{"t":"2013-09-21T17:00","NO2_Reference":9.5,"N1":15.5},
{"t":"2013-09-21T18:00","NO2_Reference":8.0,"N1":14.0},
{"t":"2013-09-21T19:00","NO2_Reference":7.5,"N1":13.0},
{"t":"2013-09-21T20:00","NO2_Reference":7.0,"N1":11.8},
{"t":"2013-09-21T21:00","NO2_Reference":8.0,"N1":13.0},
{"t":"2013-09-21T22:00","NO2_Reference":9.0,"N1":14.0},
{"t":"2013-09-21T23:00","NO2_Reference":9.5,"N1":15.5},
{"t":"2013-09-22T00:00","NO2_Reference":10.0,"N1":17.0},
{"t":"2013-09-22T01:00","NO2_Reference":8.5,"N1":18.0},
{"t":"2013-09-22T02:00","NO2_Reference":7.0,"N1":19.0},
{"t":"2013-09-22T03:00","NO2_Reference":5.5,"N1":28.0},
{"t":"2013-09-22T04:00","NO2_Reference":4.0,"N1":36.0},
{"t":"2013-09-22T05:00","NO2_Reference":3.5,"N1":32.0},
{"t":"2013-09-22T06:00","NO2_Reference":3.0,"N1":29.0},
{"t":"2013-09-22T07:00","NO2_Reference":2.8,"N1":33.0},
{"t":"2013-09-22T08:00","NO2_Reference":2.7,"N1":36.0},
{"t":"2013-09-22T09:00","NO2_Reference":2.8,"N1":30.0},
{"t":"2013-09-22T10:00","NO2_Reference":3.0,"N1":25.0},
{"t":"2013-09-22T11:00","NO2_Reference":3.0,"N1":34.0},
{"t":"2013-09-22T12:00","NO2_Reference":3.0,"N1":43.6},
{"t":"2013-09-22T13:00","NO2_Reference":3.7,"N1":32.0},
{"t":"2013-09-22T14:00","NO2_Reference":4.5,"N1":21.6},
{"t":"2013-09-22T15:00","NO2_Reference":5.8,"N1":19.0},
{"t":"2013-09-22T16:00","NO2_Reference":7.0,"N1":17.0},
{"t":"2013-09-22T17:00","NO2_Reference":7.0,"N1":16.5},
{"t":"2013-09-22T18:00","NO2_Reference":7.0,"N1":16.0},
{"t":"2013-09-22T19:00","NO2_Reference":7.6,"N1":16.2},
{"t":"2013-09-22T20:00","NO2_Reference":8.2,"N1":16.5},
{"t":"2013-09-22T21:00","NO2_Reference":8.2,"N1":16.0},
{"t":"2013-09-22T22:00","NO2_Reference":8.2,"N1":15.5},
{"t":"2013-09-22T23:00","NO2_Reference":9.5,"N1":17.0},
{"t":"2013-09-23T00:00","NO2_Reference":10.6,"N1":18.0},
{"t":"2013-09-23T01:00","NO2_Reference":12.0,"N1":20.0},
{"t":"2013-09-23T02:00","NO2_Reference":13.5,"N1":82.0},
{"t":"2013-09-25T04:00","NO2_Reference":42.6,"N1":16.8},
{"t":"2013-09-25T05:00","NO2_Reference":42.8,"N1":49.0},
{"t":"2013-09-25T06:00","NO2_Reference":8.2,"N1":25.0},
{"t":"2013-09-25T07:00","NO2_Reference":8.6,"N1":22.0},
{"t":"2013-09-25T08:00","NO2_Reference":9.0,"N1":20.0},
{"t":"2013-09-25T09:00","NO2_Reference":9.0,"N1":16.0},
{"t":"2013-09-25T10:00","NO2_Reference":9.0,"N1":12.0},
{"t":"2013-09-25T11:00","NO2_Reference":9.0,"N1":7.0},
{"t":"2013-09-25T12:00","NO2_Reference":9.0,"N1":3.0},
{"t":"2013-09-25T13:00","NO2_Reference":9.5,"N1":2.0},
{"t":"2013-09-25T14:00","NO2_Reference":10.0,"N1":1.0},
{"t":"2013-09-25T15:00","NO2_Reference":9.5,"N1":0.5},
{"t":"2013-09-25T16:00","NO2_Reference":9.0,"N1":0.3},
{"t":"2013-09-25T17:00","NO2_Reference":8.5,"N1":0.4},
{"t":"2013-09-25T18:00","NO2_Reference":8.0,"N1":0.5},
{"t":"2013-09-25T19:00","NO2_Reference":8.5,"N1":0.8},
{"t":"2013-09-25T20:00","NO2_Reference":9.0,"N1":1.0},
{"t":"2013-09-25T21:00","NO2_Reference":7.5,"N1":2.0},
{"t":"2013-09-25T22:00","NO2_Reference":6.0,"N1":3.0},
{"t":"2013-09-25T23:00","NO2_Reference":4.0,"N1":20.0},
{"t":"2013-09-26T00:00","NO2_Reference":2.3,"N1":54.0},
{"t":"2013-09-26T01:00","NO2_Reference":3.5,"N1":47.0},
{"t":"2013-09-26T02:00","NO2_Reference":5.0,"N1":40.0},
{"t":"2013-09-26T03:00","NO2_Reference":6.5,"N1":30.0},
{"t":"2013-09-26T04:00","NO2_Reference":8.0,"N1":20.0},
{"t":"2013-09-26T05:00","NO2_Reference":10.5,"N1":15.0},
{"t":"2013-09-26T06:00","NO2_Reference":13.0,"N1":10.0},
{"t":"2013-09-26T07:00","NO2_Reference":9.0,"N1":6.0},
{"t":"2013-09-26T08:00","NO2_Reference":6.0,"N1":3.0},
{"t":"2013-09-26T09:00","NO2_Reference":5.5,"N1":2.0},
{"t":"2013-09-26T10:00","NO2_Reference":5.0,"N1":1.5},
{"t":"2013-09-26T11:00","NO2_Reference":8.0,"N1":6.0},
{"t":"2013-09-26T12:00","NO2_Reference":11.8,"N1":13.0},
{"t":"2013-09-26T13:00","NO2_Reference":9.0,"N1":7.0},
{"t":"2013-09-26T14:00","NO2_Reference":6.0,"N1":2.0},
{"t":"2013-09-26T15:00","NO2_Reference":5.5,"N1":4.0},
{"t":"2013-09-26T16:00","NO2_Reference":5.0,"N1":8.2},
{"t":"2013-09-26T17:00","NO2_Reference":4.5,"N1":5.0},
{"t":"2013-09-26T18:00","NO2_Reference":4.0,"N1":2.0},
{"t":"2013-09-26T19:00","NO2_Reference":5.0,"N1":1.5},
{"t":"2013-09-26T20:00","NO2_Reference":6.0,"N1":1.0},
{"t":"2013-09-26T21:00","NO2_Reference":4.5,"N1":2.0},
{"t":"2013-09-26T22:00","NO2_Reference":3.3,"N1":3.0},
{"t":"2013-09-26T23:00","NO2_Reference":5.5,"N1":12.0},
{"t":"2013-09-27T00:00","NO2_Reference":8.2,"N1":24.0},
{"t":"2013-09-27T01:00","NO2_Reference":5.0,"N1":28.0},
{"t":"2013-09-27T02:00","NO2_Reference":2.0,"N1":32.6},
{"t":"2013-09-27T03:00","NO2_Reference":1.5,"N1":42.0},
{"t":"2013-09-27T04:00","NO2_Reference":1.0,"N1":51.0},
{"t":"2013-09-27T06:00","NO2_Reference":1.2,"N1":100.5},
{"t":"2013-09-27T07:00","NO2_Reference":1.3,"N1":32.0},
{"t":"2013-09-27T08:00","NO2_Reference":1.5,"N1":28.0},
{"t":"2013-09-27T09:00","NO2_Reference":1.5,"N1":30.0},
{"t":"2013-09-27T10:00","NO2_Reference":1.5,"N1":36.3},
{"t":"2013-09-27T11:00","NO2_Reference":1.5,"N1":20.0},
{"t":"2013-09-27T12:00","NO2_Reference":1.5,"N1":2.0},
{"t":"2013-09-27T13:00","NO2_Reference":1.5,"N1":1.5},
{"t":"2013-09-27T14:00","NO2_Reference":1.5,"N1":1.0},
{"t":"2013-09-27T15:00","NO2_Reference":4.0,"N1":1.2},
{"t":"2013-09-27T16:00","NO2_Reference":7.0,"N1":1.5},
{"t":"2013-09-27T17:00","NO2_Reference":6.5,"N1":2.0},
{"t":"2013-09-27T18:00","NO2_Reference":6.0,"N1":3.0}
]},
"hconcat":[
{
"width":518,"height":302,
"data":{"name":"ts"},
"title":{"text":"(a)","orient":"bottom","anchor":"middle","dx":-37,"offset":26,"font":"Liberation Serif","fontSize":17,"fontWeight":"normal","color":"#000000"},
"transform":[{"fold":["NO2_Reference","N1"],"as":["series","value"]}],
"encoding":{
"x":{"field":"t","type":"temporal","scale":{"nice":false},"axis":{"title":"Date/Time","values":[{"year":2013,"month":9,"date":5},{"year":2013,"month":9,"date":9},{"year":2013,"month":9,"date":13},{"year":2013,"month":9,"date":17},{"year":2013,"month":9,"date":21},{"year":2013,"month":9,"date":25}],"format":"%Y-%m-%d","labelAngle":-30,"labelAlign":"right","labelBaseline":"top","labelOffset":-4,"labelPadding":7,"titlePadding":8}},
"y":{"field":"value","type":"quantitative","scale":{"domain":[-5,106],"nice":false,"zero":false},"axis":{"title":null,"values":[0,20,40,60,80,100]}},
"color":{"field":"series","type":"nominal","scale":{"domain":["NO2_Reference","N1"],"range":["#1f77b4","#ff7f0e"]},"legend":{"title":null,"orient":"top-left","offset":7,"padding":5,"fillColor":"rgba(255,255,255,0.8)","strokeColor":"#cccccc","cornerRadius":3,"rowPadding":8,"symbolType":"M-2,0H2","symbolSize":289,"symbolOffset":8,"symbolStrokeWidth":2,"labelOffset":19,"labelFontSize":15}}
},
"layer":[
{"transform":[{"filter":"datum.series === 'NO2_Reference'"}],"mark":{"type":"line","strokeWidth":1.6}},
{"transform":[{"filter":"datum.series === 'N1'"}],"mark":{"type":"line","strokeWidth":1.6}}
]
},
{
"width":538,"height":352,
"data":{"name":"ts"},
"title":{"text":"(b)","orient":"bottom","anchor":"middle","dx":-31,"offset":18,"font":"Liberation Serif","fontSize":17,"fontWeight":"normal","color":"#000000"},
"mark":{"type":"point","filled":true,"size":80,"opacity":1},
"encoding":{
"x":{"field":"N1","type":"quantitative","scale":{"domain":[-5.1,105.6],"nice":false,"zero":false},"axis":{"title":"N1","values":[0,20,40,60,80,100],"labelPadding":6,"titlePadding":8}},
"y":{"field":"NO2_Reference","type":"quantitative","scale":{"domain":[-1.9,44.9],"nice":false,"zero":false},"axis":{"title":"NO2 Reference monitor","values":[0,10,20,30,40],"titlePadding":9}},
"color":{"datum":"sensor measurement v. reference monitor measurement","type":"nominal","scale":{"range":["#5f9ea0"]},"legend":{"title":null,"orient":"top-right","offset":7,"padding":6,"fillColor":"rgba(255,255,255,0.8)","strokeColor":"#cccccc","cornerRadius":3,"symbolType":"circle","symbolSize":80,"symbolOffset":10,"labelOffset":19,"labelFontSize":16,"labelLimit":0}}
}
}
],
"spacing":29,
"resolve":{"scale":{"color":"independent"},"legend":{"color":"independent"}}
}
